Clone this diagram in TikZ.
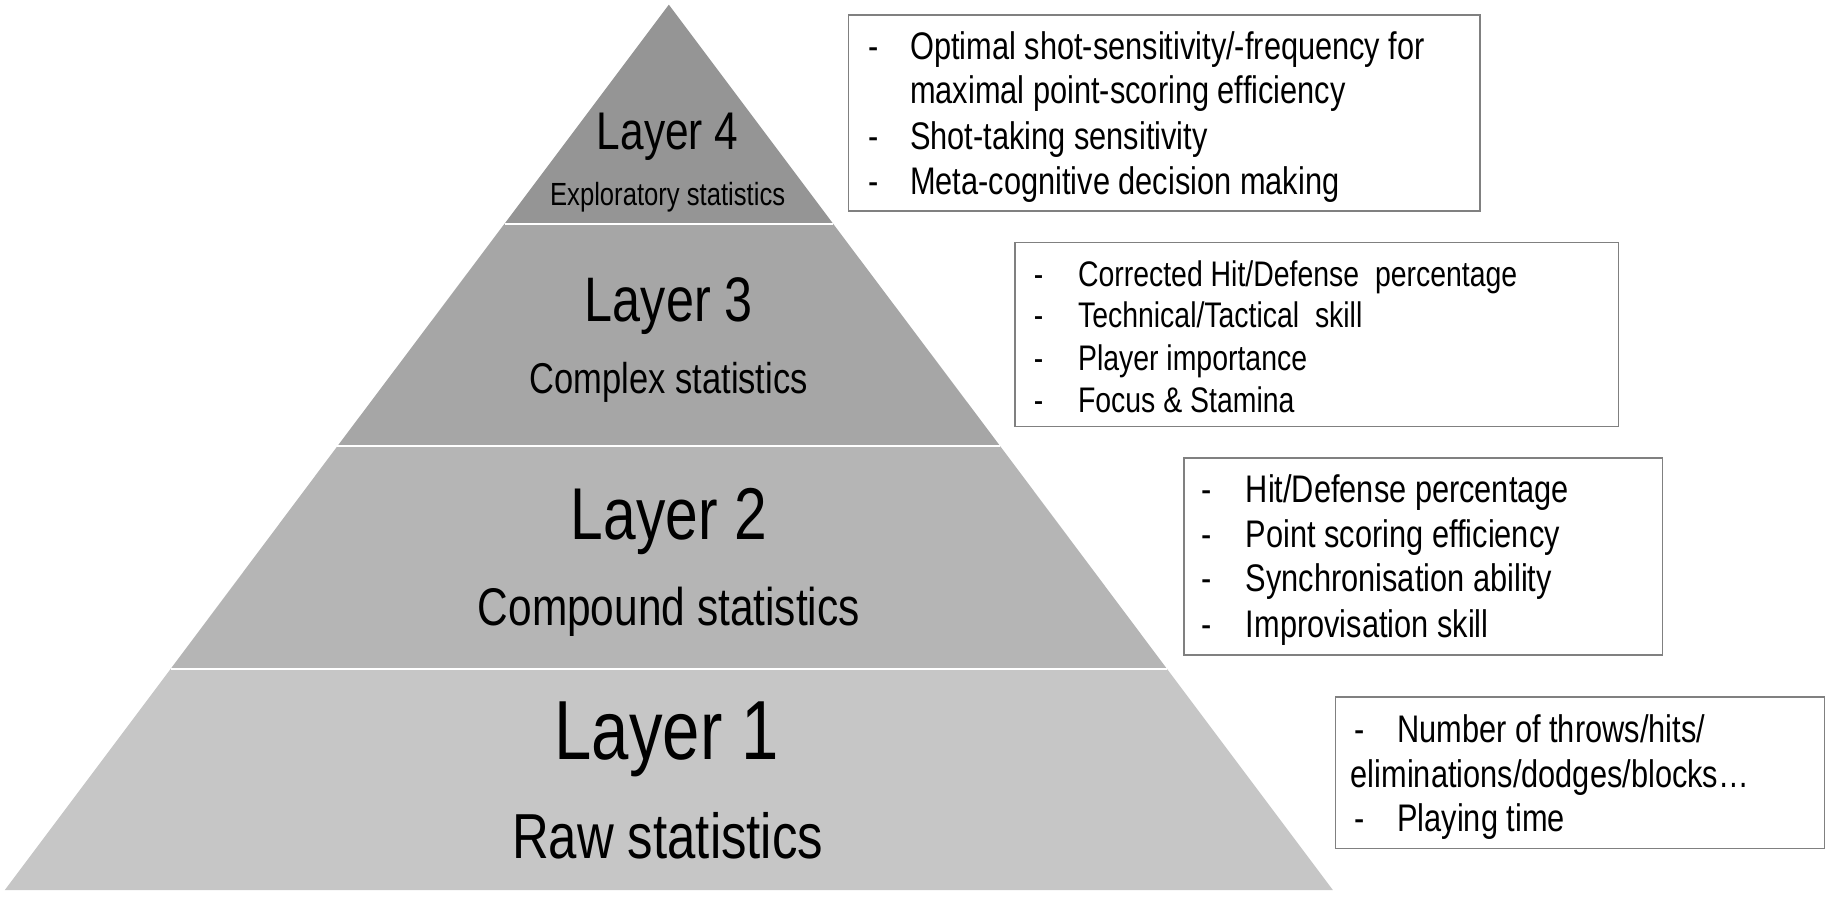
\documentclass[tikz,border=0pt]{standalone}
\usepackage{fontspec}
\setmainfont[FakeStretch=0.8]{Liberation Sans}
\definecolor{gfour}{HTML}{959595}
\definecolor{gthree}{HTML}{A6A6A6}
\definecolor{gtwo}{HTML}{B5B5B5}
\definecolor{gone}{HTML}{C6C6C6}
\definecolor{boxline}{HTML}{808080}
\tikzset{
  txt/.style={inner sep=0pt, anchor=base west, font=\fontsize{33}{38}\selectfont},
  txtsm/.style={inner sep=0pt, anchor=base west, font=\fontsize{30.5}{36}\selectfont},
  lbl/.style={inner sep=0pt, anchor=base},
  infobox/.style={draw=boxline, line width=1.3pt, fill=white},
  sep/.style={white, line width=2pt}
}
\begin{document}
\begin{tikzpicture}[x=1pt,y=-1pt]
\useasboundingbox (0,0) rectangle (1568,778);
% pyramid
\coordinate (apex) at (574,4);
\coordinate (a4l) at (433,192); \coordinate (a4r) at (715,192);
\coordinate (a3l) at (289.5,383); \coordinate (a3r) at (858.5,383);
\coordinate (a2l) at (146.5,574); \coordinate (a2r) at (1001.5,574);
\coordinate (a1l) at (4,764); \coordinate (a1r) at (1144,764);
\fill[gfour] (apex) -- (a4r) -- (a4l) -- cycle;
\fill[gthree] (a4l) -- (a4r) -- (a3r) -- (a3l) -- cycle;
\fill[gtwo] (a3l) -- (a3r) -- (a2r) -- (a2l) -- cycle;
\fill[gone] (a2l) -- (a2r) -- (a1r) -- (a1l) -- cycle;
\draw[sep] (a4l) -- (a4r);
\draw[sep] (a3l) -- (a3r);
\draw[sep] (a2l) -- (a2r);
% layer labels
\node[lbl, font=\fontsize{45.5}{50}\selectfont] (l4) at (573,128) {Layer 4};
\node[lbl, font=\fontsize{27.5}{32}\selectfont] (s4) at (573,176) {Exploratory statistics};
\node[lbl, font=\fontsize{54}{60}\selectfont] (l3) at (574,276) {Layer 3};
\node[lbl, font=\fontsize{37}{42}\selectfont] (s3) at (574,338) {Complex statistics};
\node[lbl, font=\fontsize{63}{70}\selectfont] (l2) at (574,463) {Layer 2};
\node[lbl, font=\fontsize{45.5}{50}\selectfont] (s2) at (574,537) {Compound statistics};
\node[lbl, font=\fontsize{72}{80}\selectfont] (l1) at (572,652) {Layer 1};
\node[lbl, font=\fontsize{54.6}{60}\selectfont] (s1) at (573,737) {Raw statistics};
% box 4
\draw[infobox] (728,13) rectangle (1270,181);
\node[txt] (b4d1) at (745,51) {-};
\node[txt] (b4t1) at (781,51) {Optimal shot-sensitivity/-frequency for};
\node[txt] (b4t1b) at (781,89) {maximal point-scoring efficiency};
\node[txt] (b4d2) at (745,128) {-};
\node[txt] (b4t2) at (781,128) {Shot-taking sensitivity};
\node[txt] (b4d3) at (745,167) {-};
\node[txt] (b4t3) at (781,167) {Meta-cognitive decision making};
% box 3
\draw[infobox] (871,208) rectangle (1389,366);
\node[txtsm] (b3d1) at (887,246) {-};
\node[txtsm] (b3t1) at (925,246) {Corrected Hit/Defense\ \ percentage};
\node[txtsm] (b3d2) at (887,281) {-};
\node[txtsm] (b3t2) at (925,281) {Technical/Tactical\ \ skill};
\node[txtsm] (b3d3) at (887,318) {-};
\node[txtsm] (b3t3) at (925,318) {Player importance};
\node[txtsm] (b3d4) at (887,354) {-};
\node[txtsm] (b3t4) at (925,354) {Focus \& Stamina};
% box 2
\draw[infobox] (1016,393) rectangle (1427,562);
\node[txt] (b2d1) at (1031,431) {-};
\node[txt] (b2t1) at (1069,431) {Hit/Defense percentage};
\node[txt] (b2d2) at (1031,470) {-};
\node[txt] (b2t2) at (1069,470) {Point scoring efficiency};
\node[txt] (b2d3) at (1031,508) {-};
\node[txt] (b2t3) at (1069,508) {Synchronisation ability};
\node[txt] (b2d4) at (1031,547) {-};
\node[txt] (b2t4) at (1069,547) {Improvisation skill};
% box 1
\draw[infobox] (1146,598) rectangle (1566,728);
\node[txt] (b1d1) at (1162,637) {-};
\node[txt] (b1t1) at (1199,637) {Number of throws/hits/};
\node[txt] (b1t1b) at (1159,676) {eliminations/dodges/blocks…};
\node[txt] (b1d2) at (1162,714) {-};
\node[txt] (b1t2) at (1199,714) {Playing time};
\end{tikzpicture}
\end{document}
